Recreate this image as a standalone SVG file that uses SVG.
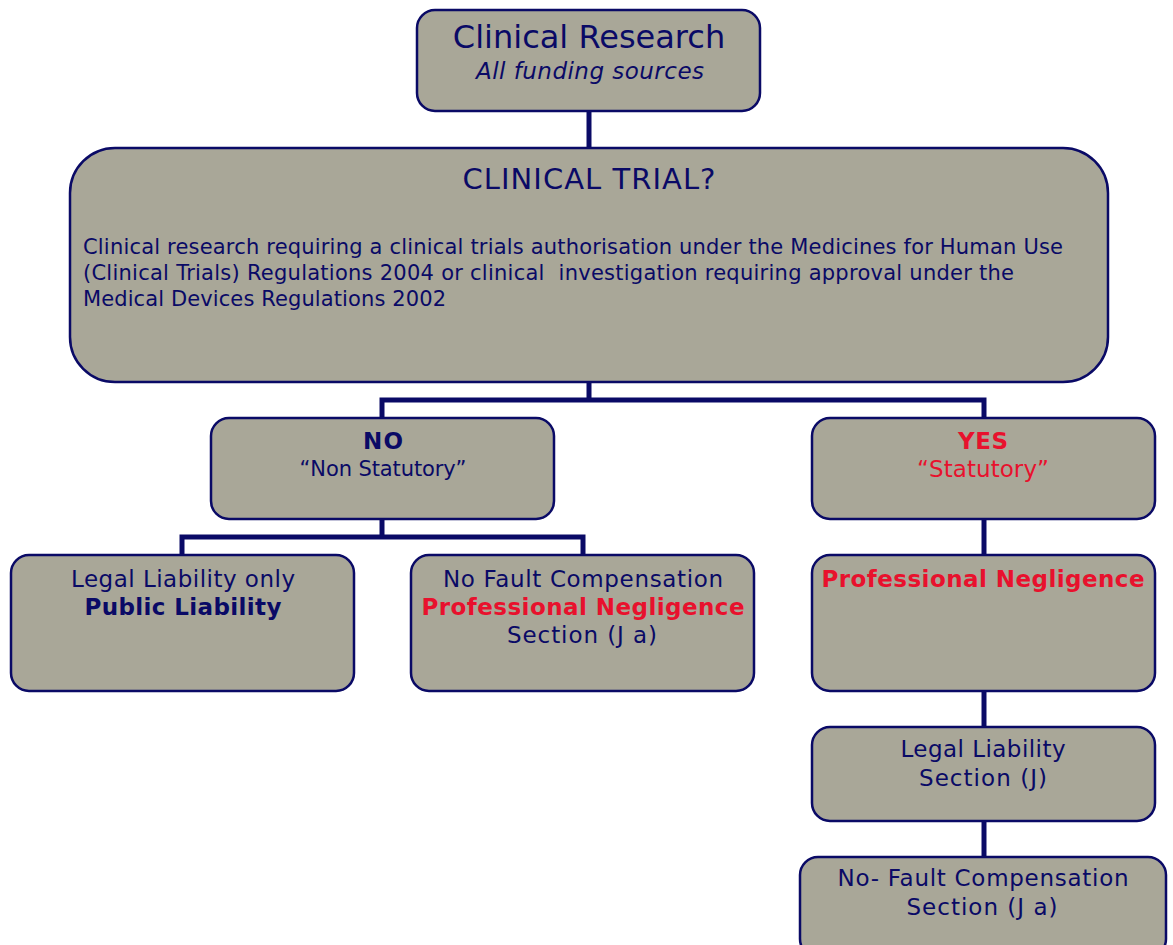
<svg xmlns="http://www.w3.org/2000/svg" width="1173" height="945" viewBox="0 0 1173 945">
<style>
.box{fill:#A9A798;stroke:#0A0A66;stroke-width:2.5}
.conn{fill:none;stroke:#0A0A66;stroke-width:5}
text{font-family:"DejaVu Sans","Liberation Sans",sans-serif;fill:#0A0A66;font-size:23px}
.c{text-anchor:middle}
.red{fill:#E8112D}
.b{font-weight:bold}
.body{font-size:21px}
</style>
<rect width="1173" height="945" fill="#fff"/>
<g id="connectors">
<path class="conn" d="M589 111V148"/>
<path class="conn" d="M589 382V400M382 418V400H984V418"/>
<path class="conn" d="M382 519V537M182 555V537H583V555"/>
<path class="conn" d="M984 519V555"/>
<path class="conn" d="M984 691V727"/>
<path class="conn" d="M984 821V857"/>
</g>
<g id="clinical-research">
<rect class="box" x="417" y="10" width="343" height="101" rx="18"/>
<text class="c" x="589" y="48" style="font-size:32px">Clinical Research</text>
<text class="c" x="590" y="79" font-style="italic" textLength="228" lengthAdjust="spacing">All funding sources</text>
</g>
<g id="clinical-trial">
<rect class="box" x="70" y="148" width="1038" height="234" rx="45"/>
<text class="c" x="589" y="189" style="font-size:29px" textLength="253" lengthAdjust="spacing">CLINICAL TRIAL?</text>
<text class="body" x="83" y="254" textLength="980" lengthAdjust="spacing">Clinical research requiring a clinical trials authorisation under the Medicines for Human Use</text>
<text class="body" x="83" y="280" xml:space="preserve" textLength="931" lengthAdjust="spacing">(Clinical Trials) Regulations 2004 or clinical  investigation requiring approval under the</text>
<text class="body" x="83" y="306" textLength="363" lengthAdjust="spacing">Medical Devices Regulations 2002</text>
</g>
<g id="no">
<rect class="box" x="211" y="418" width="343" height="101" rx="18"/>
<text class="c b" x="383" y="449" style="font-size:23px" textLength="40" lengthAdjust="spacing">NO</text>
<text class="c" x="383" y="476" style="font-size:21px" textLength="167" lengthAdjust="spacing">“Non Statutory”</text>
</g>
<g id="yes">
<rect class="box" x="812" y="418" width="343" height="101" rx="18"/>
<text class="c b red" x="983" y="449" style="font-size:23px" textLength="50" lengthAdjust="spacing">YES</text>
<text class="c red" x="983" y="477" textLength="132" lengthAdjust="spacing">“Statutory”</text>
</g>
<g id="public-liability">
<rect class="box" x="11" y="555" width="343" height="136" rx="18"/>
<text class="c" x="183" y="587" textLength="224" lengthAdjust="spacing">Legal Liability only</text>
<text class="c b" x="183" y="615" textLength="197" lengthAdjust="spacing">Public Liability</text>
</g>
<g id="no-fault">
<rect class="box" x="411" y="555" width="343" height="136" rx="18"/>
<text class="c" x="583" y="587" textLength="280" lengthAdjust="spacing">No Fault Compensation</text>
<text class="c b red" x="583" y="615" textLength="323" lengthAdjust="spacing">Professional Negligence</text>
<text class="c" x="582" y="643" textLength="150" lengthAdjust="spacing">Section (J a)</text>
</g>
<g id="prof-negligence">
<rect class="box" x="812" y="555" width="343" height="136" rx="18"/>
<text class="c b red" x="983" y="587" textLength="323" lengthAdjust="spacing">Professional Negligence</text>
</g>
<g id="legal-liability">
<rect class="box" x="812" y="727" width="343" height="94" rx="18"/>
<text class="c" x="983" y="757" textLength="165" lengthAdjust="spacing">Legal Liability</text>
<text class="c" x="983" y="786" textLength="128" lengthAdjust="spacing">Section (J)</text>
</g>
<g id="no-fault-comp">
<rect class="box" x="800" y="857" width="366" height="100" rx="18"/>
<text class="c" x="983" y="886" textLength="291" lengthAdjust="spacing">No- Fault Compensation</text>
<text class="c" x="982" y="915" textLength="151" lengthAdjust="spacing">Section (J a)</text>
</g>
</svg>
